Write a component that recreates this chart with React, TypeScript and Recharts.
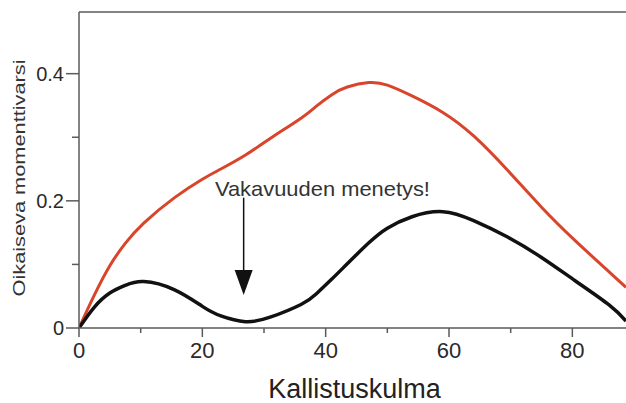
import React from 'react';
import { LineChart, Line, XAxis, YAxis, ReferenceLine, ReferenceDot } from 'recharts';

const angles = [0, 2.5, 5, 7.5, 10.5, 15.5, 20, 23, 27, 31, 36, 38.5, 41, 43.5, 47, 50, 54, 59, 64, 69.5, 75, 80.5, 86, 88.7];
const redValues = [0, 0.052, 0.098, 0.133, 0.165, 0.205, 0.234, 0.25, 0.272, 0.298, 0.33, 0.349, 0.367, 0.379, 0.386, 0.382, 0.365, 0.339, 0.302, 0.248, 0.19, 0.137, 0.088, 0.064];
const blackValues = [0, 0.033, 0.055, 0.067, 0.073, 0.06, 0.034, 0.019, 0.01, 0.017, 0.037, 0.054, 0.077, 0.101, 0.134, 0.157, 0.175, 0.183, 0.169, 0.143, 0.111, 0.074, 0.036, 0.011];

const xTicks = [0, 10, 20, 30, 40, 50, 60, 70, 80];
const xTickLabels = ['0', '', '20', '', '40', '', '60', '', '80'];
const yTicks = [0, 0.1, 0.2, 0.3, 0.4];
const yTickLabels = ['0', '', '0.2', '', '0.4'];

const xTitle = 'Kallistuskulma';
const yTitle = 'Oikaiseva momenttivarsi';
const noteText = 'Vakavuuden menetys!';
const noteArrow = { x: 26.7, from: 0.205, to: 0.09, tip: 0.052 };
const notePos = { x: 22.05, y: 0.208 };

const X_MAX = 88.7;
const Y_MAX = 0.497;

const data = angles.map((a, i) => ({ angle: a, red: redValues[i], black: blackValues[i] }));

const FONT = '"Liberation Sans", Arial, Helvetica, sans-serif';
const AXIS = '#5a5a5a';

const XTick = (props: any) => {
  const { x, y, payload } = props;
  const i = xTicks.indexOf(payload.value);
  const label = i >= 0 ? xTickLabels[i] : '';
  const major = label !== '';
  return (
    <g>
      <line x1={x} x2={x} y1={y} y2={y + (major ? 9 : 5)} stroke={AXIS} strokeWidth={1.5} />
      {major && (
        <text x={x} y={y + 30} textAnchor="middle" fontFamily={FONT} fontSize={22} fill="#2a2a2a">
          {label}
        </text>
      )}
    </g>
  );
};

const YTick = (props: any) => {
  const { x, y, payload } = props;
  const i = yTicks.indexOf(payload.value);
  const label = i >= 0 ? yTickLabels[i] : '';
  const major = label !== '';
  return (
    <g>
      <line x1={x - (major ? 13 : 7)} x2={x} y1={y} y2={y} stroke={AXIS} strokeWidth={1.5} />
      {major && (
        <text x={x - 15} y={y + 7} textAnchor="end" fontFamily={FONT} fontSize={20} fill="#2a2a2a">
          {label}
        </text>
      )}
    </g>
  );
};

export default function App() {
  return (
    <div style={{ position: 'absolute', left: 0, top: 0, background: '#fff' }}>
      <LineChart width={626} height={403} data={data} margin={{ top: 12, right: 0, bottom: 0, left: 0 }}>
        <XAxis
          dataKey="angle"
          type="number"
          domain={[0, X_MAX]}
          ticks={xTicks}
          allowDataOverflow
          height={75}
          tickSize={0}
          tickMargin={0}
          tickLine={false}
          axisLine={{ stroke: AXIS, strokeWidth: 1.5 }}
          tick={<XTick />}
          interval={0}
          label={{
            content: (p: any) => {
              const vb = p.viewBox;
              return (
                <text x={vb.x + vb.width / 2 + 2} y={398} textAnchor="middle" fontFamily={FONT} fontSize={27} fill="#222">
                  {xTitle}
                </text>
              );
            },
          }}
        />
        <YAxis
          type="number"
          domain={[0, Y_MAX]}
          ticks={yTicks}
          allowDataOverflow
          width={79}
          tickSize={0}
          tickMargin={0}
          tickLine={false}
          axisLine={{ stroke: AXIS, strokeWidth: 1.5 }}
          tick={<YTick />}
          interval={0}
          label={{
            content: () => (
              <text
                x={25}
                y={178}
                textAnchor="middle"
                transform="rotate(-90, 25, 178)"
                fontFamily={FONT}
                fontSize={17}
                fill="#333"
                textLength={237}
                lengthAdjust="spacingAndGlyphs"
              >
                {yTitle}
              </text>
            ),
          }}
        />
        <ReferenceLine y={Y_MAX} stroke={AXIS} strokeWidth={1.5} ifOverflow="visible" />
        <Line type="natural" dataKey="red" stroke="#d8452b" strokeWidth={3} dot={false} isAnimationActive={false} />
        <Line type="natural" dataKey="black" stroke="#111" strokeWidth={3.5} dot={false} isAnimationActive={false} />
        <ReferenceLine
          segment={[{ x: noteArrow.x, y: noteArrow.from }, { x: noteArrow.x, y: noteArrow.to }]}
          stroke="#111"
          strokeWidth={1.5}
        />
        <ReferenceDot
          x={noteArrow.x}
          y={noteArrow.tip}
          r={0}
          shape={(p: any) => (
            <polygon
              points={`${p.cx - 9},${p.cy - 25} ${p.cx + 9},${p.cy - 25} ${p.cx},${p.cy}`}
              fill="#111"
            />
          )}
        />
        <ReferenceDot
          x={notePos.x}
          y={notePos.y}
          r={0}
          shape={(p: any) => (
            <text
              x={p.cx}
              y={p.cy}
              textAnchor="start"
              fontFamily={FONT}
              fontSize={21}
              fill="#333"
              textLength={215}
              lengthAdjust="spacingAndGlyphs"
            >
              {noteText}
            </text>
          )}
        />
      </LineChart>
    </div>
  );
}
